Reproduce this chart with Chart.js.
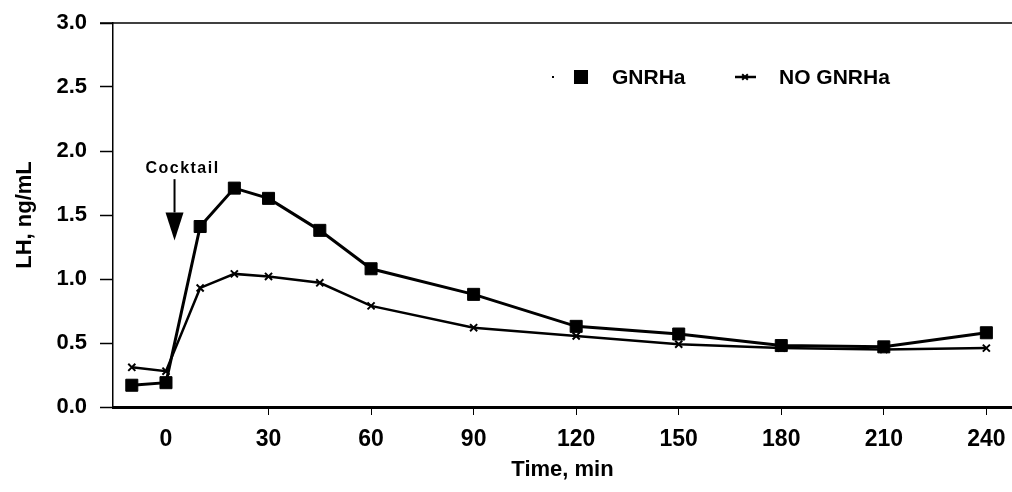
<!DOCTYPE html>
<html>
<head>
<meta charset="utf-8">
<script src="https://cdn.jsdelivr.net/npm/chart.js@4.4.0/dist/chart.umd.min.js"></script>
<style>
  body { margin: 0; background: #fff; }
  #wrap { width: 1012px; height: 492px; }
</style>
</head>
<body>
<div id="wrap"><canvas id="lhChart" width="1012" height="492"></canvas></div>
<script>
// values
const times = [-10, 0, 10, 20, 30, 45, 60, 90, 120, 150, 180, 210, 240];
const gnrha = [0.17, 0.19, 1.41, 1.71, 1.63, 1.38, 1.08, 0.88, 0.63, 0.57, 0.48, 0.47, 0.58];
const noGnrha = [0.31, 0.28, 0.93, 1.04, 1.02, 0.97, 0.79, 0.62, 0.555, 0.49, 0.46, 0.45, 0.46];
const xTicks = [0, 30, 60, 90, 120, 150, 180, 210, 240];
const yTicks = [0, 0.5, 1, 1.5, 2, 2.5, 3];
const seriesLabels = ['GNRHa', 'NO GNRHa'];
const cocktailTime = 2.5;

const FONT = '"Liberation Sans", Arial, sans-serif';

function toPoints(vals) {
  return vals.map((v, i) => ({ x: times[i], y: v }));
}

// frame line on top, "Cocktail" arrow and the legend inside the plot
const extras = {
  id: 'extras',
  afterDraw(chart) {
    const ctx = chart.ctx;
    const area = chart.chartArea;
    const xs = chart.scales.x, ys = chart.scales.y;
    ctx.save();
    ctx.strokeStyle = '#000';
    ctx.fillStyle = '#000';

    // top border
    ctx.lineWidth = 1.5;
    ctx.beginPath();
    ctx.moveTo(area.left - 13, area.top);
    ctx.lineTo(area.right, area.top);
    ctx.stroke();

    // cocktail arrow
    const ax = xs.getPixelForValue(cocktailTime);
    ctx.font = 'bold 16px ' + FONT;
    ctx.letterSpacing = '1.5px';
    ctx.textAlign = 'center';
    ctx.textBaseline = 'alphabetic';
    ctx.fillText('Cocktail', ax + 8, ys.getPixelForValue(1.83));
    ctx.letterSpacing = '0px';
    const yTop = ys.getPixelForValue(1.78);
    const yBase = ys.getPixelForValue(1.52);
    const yTip = ys.getPixelForValue(1.30);
    ctx.lineWidth = 2;
    ctx.beginPath();
    ctx.moveTo(ax, yTop);
    ctx.lineTo(ax, yBase);
    ctx.stroke();
    ctx.beginPath();
    ctx.moveTo(ax - 9, yBase);
    ctx.lineTo(ax + 9, yBase);
    ctx.lineTo(ax, yTip);
    ctx.closePath();
    ctx.fill();

    // legend
    const ly = 77;
    ctx.font = 'bold 21px ' + FONT;
    ctx.textAlign = 'left';
    ctx.textBaseline = 'middle';
    Chart.helpers.drawPoint(ctx, { pointStyle: 'rect', radius: 8.5, rotation: 0, borderWidth: 1 }, 581, ly);
    ctx.fillRect(552, ly - 1, 2, 2);
    ctx.fillText(chart.data.datasets[0].label, 612, ly + 1);

    ctx.lineWidth = 2.5;
    ctx.beginPath();
    ctx.moveTo(735, ly);
    ctx.lineTo(756, ly);
    ctx.stroke();
    ctx.lineWidth = 2;
    Chart.helpers.drawPoint(ctx, { pointStyle: 'crossRot', radius: 4, rotation: 0, borderWidth: 2 }, 745, ly);
    ctx.fillText(chart.data.datasets[1].label, 779, ly + 1);
    ctx.restore();
  }
};

new Chart(document.getElementById('lhChart'), {
  type: 'line',
  data: {
    datasets: [
      {
        label: seriesLabels[0],
        data: toPoints(gnrha),
        borderColor: '#000',
        backgroundColor: '#000',
        borderWidth: 3,
        pointStyle: 'rect',
        pointRadius: 8.5,
        pointBorderWidth: 1,
        tension: 0
      },
      {
        label: seriesLabels[1],
        data: toPoints(noGnrha),
        borderColor: '#000',
        backgroundColor: '#000',
        borderWidth: 2.5,
        pointStyle: 'crossRot',
        pointRadius: 5,
        pointBorderWidth: 2,
        tension: 0
      }
    ]
  },
  options: {
    responsive: false,
    animation: false,
    layout: { autoPadding: false, padding: { top: 23, right: 0, bottom: 0, left: 0 } },
    plugins: {
      legend: { display: false },
      tooltip: { enabled: false }
    },
    scales: {
      x: {
        type: 'linear',
        min: -15.5,
        max: 247.5,
        afterFit: s => { s.height = 85; s.paddingLeft = 0; s.paddingRight = 0; },
        afterBuildTicks: s => { s.ticks = xTicks.map(v => ({ value: v })); },
        border: { display: true, color: '#000', width: 3 },
        grid: {
          drawOnChartArea: false,
          drawTicks: true,
          tickLength: 8,
          tickWidth: 1,
          tickColor: c => (c.tick && c.tick.value === 0 ? 'rgba(0,0,0,0)' : '#000')
        },
        ticks: {
          color: '#000',
          padding: 11,
          maxRotation: 0,
          font: { family: FONT, size: 23, weight: 'bold' }
        },
        title: {
          display: true,
          text: 'Time, min',
          color: '#000',
          padding: { top: 0, bottom: 9 },
          font: { family: FONT, size: 22, weight: 'bold' }
        }
      },
      y: {
        min: 0,
        max: 3,
        afterFit: s => { s.width = 113; s.paddingTop = 0; s.paddingBottom = 0; },
        afterBuildTicks: s => { s.ticks = yTicks.map(v => ({ value: v })); },
        border: { display: true, color: '#000', width: 1.5 },
        grid: {
          drawOnChartArea: false,
          drawTicks: true,
          tickLength: 13,
          tickWidth: 1.5,
          tickColor: '#000'
        },
        ticks: {
          color: '#000',
          padding: 13,
          callback: v => Number(v).toFixed(1),
          font: { family: FONT, size: 22, weight: 'bold' }
        },
        title: {
          display: true,
          text: 'LH, ng/mL',
          color: '#000',
          padding: { top: 12, bottom: 0 },
          font: { family: FONT, size: 22, weight: 'bold' }
        }
      }
    }
  },
  plugins: [extras]
});
</script>
</body>
</html>
